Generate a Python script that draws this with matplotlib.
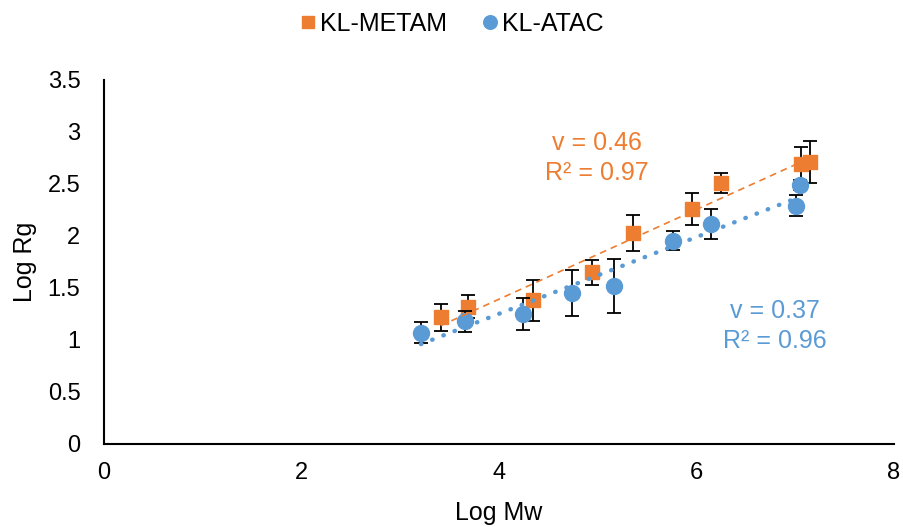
import numpy as np
import matplotlib
matplotlib.use("Agg")
import matplotlib.pyplot as plt

plt.rcParams['font.family'] = ['Liberation Sans', 'DejaVu Sans']

# KL-METAM
metam_x = [3.41, 3.69, 4.34, 4.94, 5.36, 5.95, 6.25, 7.06, 7.15]
metam_y = [1.22, 1.32, 1.38, 1.65, 2.03, 2.26, 2.51, 2.69, 2.71]
metam_err = [0.13, 0.11, 0.20, 0.12, 0.17, 0.15, 0.10, 0.17, 0.20]

# KL-ATAC
atac_x = [3.21, 3.66, 4.24, 4.74, 5.16, 5.76, 6.15, 7.01, 7.05]
atac_y = [1.07, 1.18, 1.25, 1.45, 1.52, 1.955, 2.115, 2.29, 2.49]
atac_err = [0.10, 0.10, 0.15, 0.22, 0.26, 0.09, 0.14, 0.10, 0.05]

metam_label = "v = 0.46\nR² = 0.97"
atac_label = "v = 0.37\nR² = 0.96"

orange = '#ED7D31'
blue = '#5B9BD5'

fig = plt.figure(figsize=(9.04, 5.27), dpi=100)
ax = fig.add_axes([104/904, 83/527, 790/904, 364/527])

ax.errorbar(metam_x, metam_y, yerr=metam_err, fmt='s', color=orange, ms=10.5,
            mec=orange, ecolor='black', elinewidth=1.3, capsize=4.7, capthick=1.3,
            label='KL-METAM', zorder=3)
ax.errorbar(atac_x, atac_y, yerr=atac_err, fmt='o', color=blue, ms=11.5,
            mec=blue, ecolor='black', elinewidth=1.3, capsize=4.7, capthick=1.3,
            label='KL-ATAC', zorder=4)

# trendlines
pm = np.polyfit(metam_x, metam_y, 1)
xm = np.array([min(metam_x), max(metam_x)])
ax.plot(xm, np.polyval(pm, xm), linestyle=(0, (4, 3)), color=orange, lw=1.2, zorder=5)
pa = np.polyfit(atac_x, atac_y, 1)
xa = np.array([min(atac_x), max(atac_x)])
ax.plot(xa, np.polyval(pa, xa), linestyle=(0, (0.1, 2.6)), color=blue, lw=3.2,
        dash_capstyle='round', zorder=5)

ax.text(4.99, 2.75, metam_label, color=orange, fontsize=18, ha='center', va='center',
        linespacing=1.3)
ax.text(6.79, 1.135, atac_label, color=blue, fontsize=18, ha='center', va='center',
        linespacing=1.3)

ax.set_xlim(0, 8)
ax.set_ylim(0, 3.5)
ax.set_xticks([0, 2, 4, 6, 8])
ax.set_yticks([0, 0.5, 1, 1.5, 2, 2.5, 3, 3.5])
ax.set_yticklabels(['0', '0.5', '1', '1.5', '2', '2.5', '3', '3.5'])
ax.tick_params(axis='both', length=0, labelsize=17)
ax.tick_params(axis='y', pad=17)
ax.tick_params(axis='x', pad=13)
for s in ['top', 'right']:
    ax.spines[s].set_visible(False)
for s in ['left', 'bottom']:
    ax.spines[s].set_linewidth(1.5)
    ax.spines[s].set_color('black')

ax.set_xlabel('Log Mw', fontsize=18, labelpad=12)
ax.set_ylabel('Log Rg', fontsize=18, labelpad=8)

h, l = ax.get_legend_handles_labels()
h = [hh[0] for hh in h]
leg = fig.legend(h, l, loc='center', bbox_to_anchor=(0.5, 1 - 24/527), ncol=2,
                 frameon=False, fontsize=18, handlelength=0.6, handletextpad=0.2,
                 columnspacing=1.4, markerscale=0.85)

fig.savefig('out.png', dpi=100)
